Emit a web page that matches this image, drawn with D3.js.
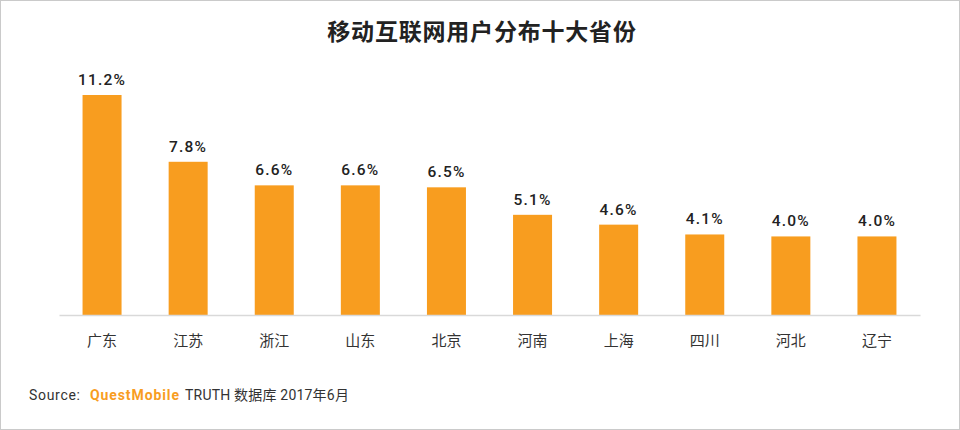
<!DOCTYPE html>
<html><head><meta charset="utf-8">
<script src="https://cdn.jsdelivr.net/npm/d3@7/dist/d3.min.js"></script>
<style>
html,body{margin:0;padding:0;background:#fff;}
svg{display:block;}
</style></head>
<body>
<svg id="chart" width="960" height="430"></svg>
<script>
const categories = ["广东","江苏","浙江","山东","北京","河南","上海","四川","河北","辽宁"];
const values = [11.2, 7.8, 6.6, 6.6, 6.5, 5.1, 4.6, 4.1, 4.0, 4.0];
const valueLabels = ["11.2%","7.8%","6.6%","6.6%","6.5%","5.1%","4.6%","4.1%","4.0%","4.0%"];
const title = "移动互联网用户分布十大省份";

const svg = d3.select("#chart");
const W = 960, H = 430;
const baseY = 315;

svg.append("rect").attr("x",0.5).attr("y",0.5).attr("width",W-1).attr("height",H-1)
  .attr("fill","#fff").attr("stroke","#cacaca").attr("stroke-width",1);

const x = d3.scaleBand().domain(categories).range([59, 920]).paddingInner(0.547).paddingOuter(0.2735);
const y = d3.scaleLinear().domain([0, 11.2]).range([baseY, 95]);

svg.append("text").attr("x", 482).attr("y", 40).attr("text-anchor","middle")
  .attr("font-family","'Noto Sans CJK SC', sans-serif").attr("font-weight","bold")
  .attr("font-size", 23).attr("letter-spacing", 0.8).attr("fill","#222").text(title);

const g = svg.append("g");
g.selectAll("rect.bar").data(values).enter().append("rect").attr("class","bar")
  .attr("x",(d,i)=>x(categories[i])).attr("width",x.bandwidth())
  .attr("y",d=>y(d)).attr("height",d=>baseY-y(d)).attr("fill","#F89D1F");

g.selectAll("text.val").data(values).enter().append("text").attr("class","val")
  .attr("x",(d,i)=>x(categories[i])+x.bandwidth()/2).attr("y",d=>y(d)-10)
  .attr("text-anchor","middle").attr("font-family","Roboto, sans-serif").attr("font-weight","500")
  .attr("font-size",15.5).attr("letter-spacing",1.2).attr("fill","#222")
  .text((d,i)=>valueLabels[i]);

const axis = d3.axisBottom(x).tickSize(0).tickPadding(20);
const ag = svg.append("g").attr("transform",`translate(0,${baseY})`).call(axis);
ag.select(".domain").attr("stroke","#d9d9d9").attr("stroke-width",1.5);
ag.selectAll("text").attr("font-family","'Noto Sans CJK SC', sans-serif").attr("font-size",15)
  .attr("fill","#333").attr("dy","0.71em");

const src = svg.append("text").attr("x",29).attr("y",400).attr("font-family","Roboto, 'Noto Sans CJK SC', sans-serif")
  .attr("font-size",14).attr("fill","#333");
src.append("tspan").attr("letter-spacing",0.7).text("Source:");
src.append("tspan").attr("x",90).attr("fill","#F89D1F").attr("font-weight","bold").attr("letter-spacing",0.9).text("QuestMobile");
src.append("tspan").attr("x",185).attr("letter-spacing",0.2).text("TRUTH 数据库 2017年6月");
</script>
</body></html>
